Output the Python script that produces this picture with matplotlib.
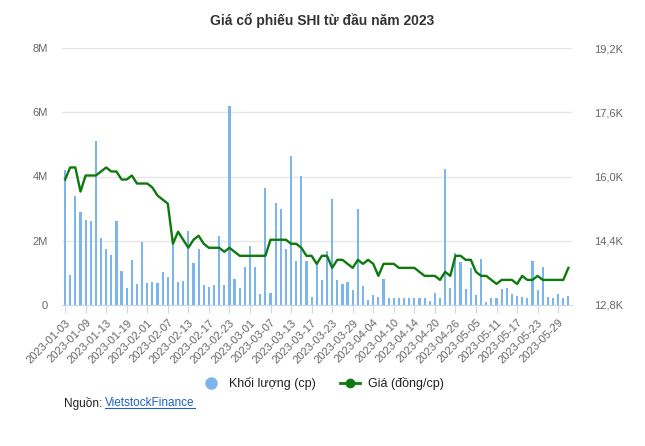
import matplotlib
matplotlib.use("Agg")
import matplotlib.pyplot as plt
from matplotlib.lines import Line2D
from matplotlib.ticker import FuncFormatter, FixedLocator
import pandas as pd

plt.rcParams['font.family'] = ['Liberation Sans', 'DejaVu Sans']

# trading days (HOSE), Tet + 30/4-1/5 holidays removed
holidays = pd.to_datetime(["2023-01-02", "2023-01-20", "2023-01-23", "2023-01-24", "2023-01-25",
                           "2023-01-26", "2023-05-01", "2023-05-02", "2023-05-03"])
days = [d for d in pd.bdate_range("2023-01-03", "2023-05-31") if d not in holidays]
dates = [d.strftime("%Y-%m-%d") for d in days]

# khoi luong (trieu cp)
volume = [4.19, 0.94, 3.39, 2.90, 2.66, 2.60, 5.10, 2.09, 1.75, 1.56,
          2.60, 1.06, 0.53, 1.39, 0.66, 1.97, 0.69, 0.72, 0.69, 1.03,
          0.88, 1.94, 0.72, 0.75, 2.31, 1.31, 1.75, 0.63, 0.56, 0.63,
          2.16, 0.63, 6.19, 0.81, 0.53, 1.19, 1.84, 1.19, 0.34, 3.63,
          0.38, 3.16, 3.00, 1.75, 4.63, 1.38, 4.03, 1.38, 0.25, 1.28,
          0.78, 1.69, 3.31, 0.78, 0.66, 0.72, 0.47, 3.00, 0.59, 0.16,
          0.31, 0.25, 0.81, 0.22, 0.22, 0.22, 0.22, 0.22, 0.22, 0.22,
          0.22, 0.13, 0.38, 0.22, 4.22, 0.53, 1.63, 1.34, 0.50, 1.16,
          0.31, 1.44, 0.09, 0.22, 0.22, 0.50, 0.53, 0.34, 0.28, 0.25,
          0.22, 1.38, 0.47, 1.19, 0.25, 0.22, 0.34, 0.22, 0.28]

# gia (dong/cp)
price = [15925, 16225, 16225, 15625, 16025, 16025, 16025, 16125, 16225, 16125,
         16125, 15925, 15925, 16025, 15825, 15825, 15825, 15725, 15525, 15425,
         15325, 14325, 14625, 14425, 14225, 14425, 14525, 14325, 14225, 14225,
         14225, 14125, 14225, 14125, 14025, 14025, 14025, 14025, 14025, 14025,
         14425, 14425, 14425, 14425, 14325, 14325, 14225, 14025, 14025, 13825,
         14025, 14025, 13725, 13925, 13925, 13825, 13725, 13925, 13825, 13925,
         13825, 13525, 13825, 13825, 13825, 13725, 13725, 13725, 13725, 13625,
         13525, 13525, 13525, 13425, 13625, 13525, 14025, 14025, 13925, 13925,
         13625, 13525, 13525, 13425, 13325, 13425, 13425, 13425, 13325, 13525,
         13425, 13425, 13525, 13425, 13425, 13425, 13425, 13425, 13725]

x = list(range(len(dates)))
bar_c = "#7cb5ec"
line_c = "#0e7a0d"
txt_c = "#666666"

fig = plt.figure(figsize=(6.45, 4.46), dpi=100)
ax = fig.add_axes([62/645, 1-305/446, 510/645, 257/446])
ax2 = ax.twinx()

ax.bar(x, [v*1e6 for v in volume], width=0.42, color=bar_c, zorder=2)
ax2.plot(x, price, color=line_c, lw=1.7, zorder=3)

ax.set_ylim(0, 8e6)
ax2.set_ylim(12800, 19200)
ax.set_xlim(-0.6, len(x)-0.3)
ax.set_yticks([0, 2e6, 4e6, 6e6, 8e6])
ax.yaxis.set_major_formatter(FuncFormatter(lambda v, p: "0" if v == 0 else f"{v/1e6:.0f}M"))
ax2.set_yticks([12800, 14400, 16000, 17600, 19200])
ax2.yaxis.set_major_formatter(FuncFormatter(lambda v, p: f"{v/1000:.1f}K".replace(".", ",")))
ax.grid(axis='y', color="#e6e6e6", lw=1, zorder=0)
ax.set_axisbelow(True)

for a in (ax, ax2):
    for s in a.spines.values():
        s.set_visible(False)
ax.spines['bottom'].set_visible(True)
ax.spines['bottom'].set_color("#ccd6eb")
ax.tick_params(axis='y', length=0, labelsize=8, labelcolor=txt_c, pad=10)
ax2.tick_params(axis='y', length=0, labelsize=8, labelcolor=txt_c, pad=16)

tick_pos = x[::4]
ax.xaxis.set_major_locator(FixedLocator(tick_pos))
ax.set_xticklabels([dates[i] for i in tick_pos], rotation=45, ha='right', va='top',
                   rotation_mode='anchor', fontsize=8, color=txt_c)
ax.tick_params(axis='x', length=6, color="#ccd6eb", pad=3)

fig.text(0.5, 1-20/446, "Giá cổ phiếu SHI từ đầu năm 2023", ha='center', va='center',
         fontsize=10, fontweight='bold', color="#333333")

handles = [Line2D([], [], marker='o', ls='none', ms=8, color=bar_c),
           Line2D([], [], marker='o', ls='-', lw=2, ms=6, color=line_c)]
fig.legend(handles, ["Khối lượng (cp)", "Giá (đồng/cp)"], loc='center',
           bbox_to_anchor=(0.5, 1-384/446), ncol=2, frameon=False, fontsize=9,
           labelcolor="#222222", handlelength=1.6, columnspacing=2.0, handletextpad=0.6)

fig.text(64/645, 1-403/446, "Nguồn: ", ha='left', va='center', fontsize=8.5, color="#222222")
t = fig.text(105/645, 1-403/446, "VietstockFinance", ha='left', va='center',
             fontsize=8.5, color="#1f5fbf")
fig.canvas.draw()
bb = t.get_window_extent().transformed(fig.transFigure.inverted())
fig.add_artist(Line2D([bb.x0, bb.x1], [bb.y0 + 0.002, bb.y0 + 0.002], color="#1f5fbf",
                      lw=0.8, transform=fig.transFigure))

fig.savefig("out.png", dpi=100)
